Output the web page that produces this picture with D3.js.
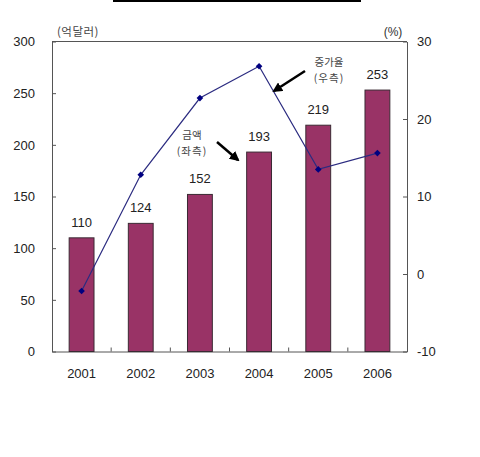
<!DOCTYPE html>
<html>
<head>
<meta charset="utf-8">
<script src="https://cdn.jsdelivr.net/npm/d3@7"></script>
<style>
  body { margin: 0; background: #fff; }
  text { font-family: "Liberation Sans", Arial, sans-serif; }
  .kr { font-family: "Noto Sans CJK KR", sans-serif; }
</style>
</head>
<body>
<script>
var years = ["2001", "2002", "2003", "2004", "2005", "2006"];
var amounts = [110, 124, 152, 193, 219, 253];
var growth = [-2.2, 12.8, 22.7, 26.8, 13.5, 15.6];
var leftTicks = [0, 50, 100, 150, 200, 250, 300];
var rightTicks = [-10, 0, 10, 20, 30];

var svg = d3.select("body")
    .append("svg")
    .attr("width", 480)
    .attr("height", 457)
    .style("display", "block");

var margin = {top: 41.5, left: 52, right: 73, bottom: 105.5};
var width = 480 - margin.left - margin.right;
var height = 457 - margin.top - margin.bottom;

var g = svg.append("g").attr("transform", "translate(" + margin.left + "," + margin.top + ")");

// cut-off title underline at the very top
svg.append("rect")
    .attr("x", 113).attr("y", 0)
    .attr("width", 248).attr("height", 2)
    .attr("fill", "#000");

var x = d3.scaleBand().domain(years).range([0, width]).paddingInner(0.58).paddingOuter(0.29);
var yL = d3.scaleLinear().domain([0, 300]).range([height, 0]);
var yR = d3.scaleLinear().domain([-10, 30]).range([height, 0]);

var axisColor = "#555";

// frame top
g.append("line")
    .attr("x1", 0).attr("x2", width)
    .attr("y1", 0).attr("y2", 0)
    .attr("stroke", axisColor);

function styleAxis(sel) {
    sel.select(".domain").attr("stroke", axisColor);
    sel.selectAll(".tick line").attr("stroke", axisColor);
    sel.selectAll(".tick text")
        .attr("fill", "#222")
        .style("font-size", "13px")
        .style("font-family", "'Liberation Sans', Arial, sans-serif");
}

g.append("g")
    .call(d3.axisLeft(yL).tickValues(leftTicks).tickFormat(String).tickSize(-4).tickSizeOuter(0).tickPadding(17))
    .call(styleAxis);

g.append("g")
    .attr("transform", "translate(" + width + ",0)")
    .call(d3.axisRight(yR).tickValues(rightTicks).tickFormat(String).tickSize(-4).tickSizeOuter(0).tickPadding(10))
    .call(styleAxis);

var xAxisG = g.append("g")
    .attr("transform", "translate(0," + height + ")")
    .call(d3.axisBottom(x).tickSize(0).tickPadding(17))
    .call(styleAxis);

// category boundary ticks pointing up
xAxisG.selectAll(".bound")
    .data(years.slice(1))
    .enter()
    .append("line")
    .attr("class", "bound")
    .attr("x1", function(d) { return x(d) - x.step() * x.paddingInner() / 2; })
    .attr("x2", function(d) { return x(d) - x.step() * x.paddingInner() / 2; })
    .attr("y1", 0).attr("y2", -4)
    .attr("stroke", axisColor);

// bars
g.selectAll(".bar")
    .data(amounts)
    .enter()
    .append("rect")
    .attr("class", "bar")
    .attr("x", function(d, i) { return x(years[i]); })
    .attr("y", function(d) { return yL(d); })
    .attr("width", x.bandwidth())
    .attr("height", function(d) { return height - yL(d); })
    .attr("fill", "#993366")
    .attr("stroke", "#3a2a33")
    .attr("stroke-width", 1);

g.selectAll(".barlabel")
    .data(amounts)
    .enter()
    .append("text")
    .attr("class", "barlabel")
    .attr("x", function(d, i) { return x(years[i]) + x.bandwidth() / 2; })
    .attr("y", function(d) { return yL(d) - 11; })
    .attr("text-anchor", "middle")
    .attr("fill", "#222")
    .style("font-size", "13px")
    .text(function(d) { return d; });

// growth line
var line = d3.line()
    .x(function(d, i) { return x(years[i]) + x.bandwidth() / 2; })
    .y(function(d) { return yR(d); });

g.append("path")
    .datum(growth)
    .attr("d", line)
    .attr("fill", "none")
    .attr("stroke", "#2b2b80")
    .attr("stroke-width", 1.2);

g.selectAll(".pt")
    .data(growth)
    .enter()
    .append("path")
    .attr("class", "pt")
    .attr("d", d3.symbol().type(d3.symbolSquare).size(22))
    .attr("transform", function(d, i) {
        return "translate(" + (x(years[i]) + x.bandwidth() / 2) + "," + yR(d) + ") rotate(45)";
    })
    .attr("fill", "#000080");

// unit labels
svg.append("text").attr("class", "kr")
    .attr("x", 78).attr("y", 36)
    .attr("text-anchor", "middle")
    .attr("fill", "#444")
    .style("font-size", "11.5px")
    .style("letter-spacing", "0.5px")
    .text("(억달러)");

svg.append("text")
    .attr("x", 393).attr("y", 36)
    .attr("text-anchor", "middle")
    .attr("fill", "#333")
    .style("font-size", "12px")
    .text("(%)");

// annotations
var defs = svg.append("defs");
defs.append("marker")
    .attr("id", "arrow")
    .attr("viewBox", "0 0 10 10")
    .attr("refX", 8).attr("refY", 5)
    .attr("markerWidth", 4).attr("markerHeight", 4)
    .attr("orient", "auto")
    .append("path")
    .attr("d", "M0,0 L10,5 L0,10 z")
    .attr("fill", "#000");

function note(cx, y1, l1, l2) {
    svg.append("text").attr("class", "kr")
        .attr("x", cx).attr("y", y1)
        .attr("text-anchor", "middle")
        .attr("fill", "#444")
        .style("font-size", "10.5px")
        .text(l1);
    svg.append("text").attr("class", "kr")
        .attr("x", cx).attr("y", y1 + 16)
        .attr("text-anchor", "middle")
        .attr("fill", "#444")
        .style("font-size", "10.5px")
        .style("letter-spacing", "1px")
        .text(l2);
}

note(329, 66, "증가율", "(우측)");
note(192, 139, "금액", "(좌측)");

svg.append("line")
    .attr("x1", 305).attr("y1", 71)
    .attr("x2", 274).attr("y2", 91)
    .attr("stroke", "#000").attr("stroke-width", 2.5)
    .attr("marker-end", "url(#arrow)");

svg.append("line")
    .attr("x1", 217).attr("y1", 142)
    .attr("x2", 238).attr("y2", 160)
    .attr("stroke", "#000").attr("stroke-width", 2.5)
    .attr("marker-end", "url(#arrow)");
</script>
</body>
</html>
